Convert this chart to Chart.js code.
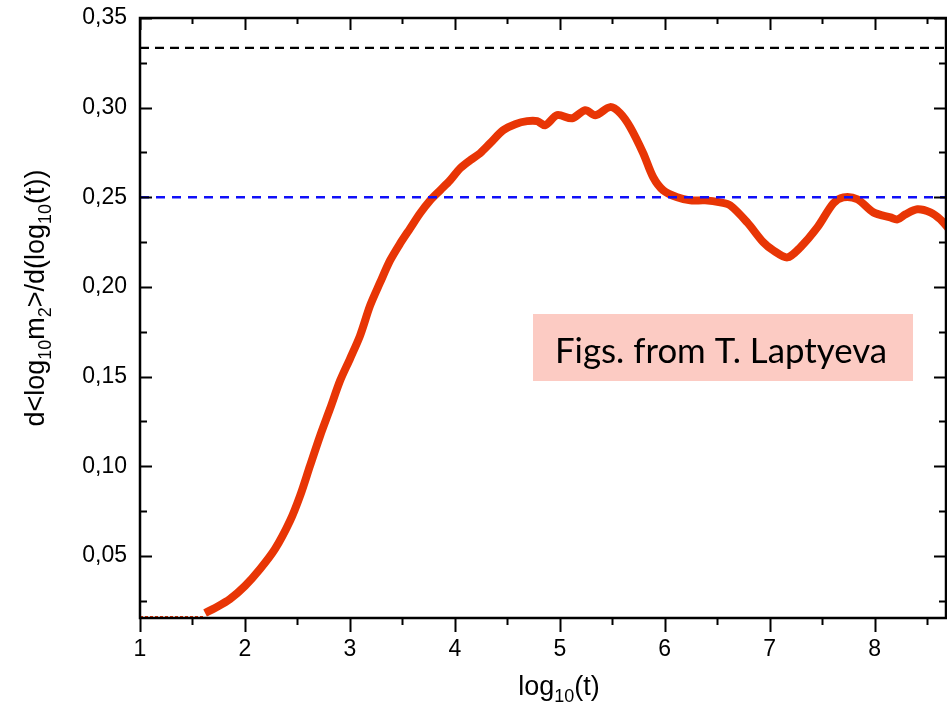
<!DOCTYPE html>
<html>
<head>
<meta charset="utf-8">
<script src="https://cdn.jsdelivr.net/npm/chart.js@4.4.1/dist/chart.umd.min.js"></script>
<style>
  html, body { margin: 0; padding: 0; background: #fff; }
  canvas { display: block; }
</style>
</head>
<body>
<canvas id="c" width="947" height="705"></canvas>
<script>
// axis ticks
const xTicks = [1, 2, 3, 4, 5, 6, 7, 8];
const xMinor = [1.5, 2.5, 3.5, 4.5, 5.5, 6.5, 7.5, 8.5];
const yTicks = [0.05, 0.10, 0.15, 0.20, 0.25, 0.30, 0.35];
const yMinor = [0.025, 0.075, 0.125, 0.175, 0.225, 0.275, 0.325];
const xMin = 1, xMax = 8.68;
const yMin = 0.0154, yMax = 0.35;

// d<log10 m2>/d(log10 t) against log10(t)
const logT = [1.620, 1.715, 1.858, 2.001, 2.144, 2.287, 2.430, 2.525, 2.620, 2.716,
  2.811, 2.907, 3.002, 3.097, 3.193, 3.288, 3.383, 3.479, 3.574, 3.669,
  3.765, 3.860, 3.955, 4.051, 4.146, 4.241, 4.337, 4.460, 4.575, 4.689,
  4.785, 4.861, 4.975, 5.118, 5.242, 5.338, 5.480, 5.576, 5.671, 5.795,
  5.890, 5.986, 6.119, 6.243, 6.386, 6.529, 6.624, 6.786, 6.939, 7.034,
  7.168, 7.292, 7.454, 7.606, 7.702, 7.835, 7.988, 8.150, 8.217, 8.293,
  8.407, 8.531, 8.626, 8.703];
const slope = [0.0182, 0.0210, 0.0260, 0.0333, 0.0427, 0.0539, 0.0696, 0.0835, 0.1003, 0.1170,
  0.1321, 0.1478, 0.1601, 0.1729, 0.1897, 0.2025, 0.2148, 0.2243, 0.2327, 0.2411,
  0.2483, 0.2539, 0.2595, 0.2662, 0.2707, 0.2746, 0.2802, 0.2874, 0.2908, 0.2925,
  0.2925, 0.2902, 0.2958, 0.2941, 0.2986, 0.2958, 0.3003, 0.2969, 0.2891, 0.2746,
  0.2612, 0.2539, 0.2500, 0.2483, 0.2483, 0.2472, 0.2455, 0.2360, 0.2249, 0.2204,
  0.2165, 0.2221, 0.2332, 0.2466, 0.2500, 0.2489, 0.2416, 0.2388, 0.2377, 0.2405,
  0.2433, 0.2416, 0.2377, 0.2327];

// early-time flat part, drawn thin
const flatT = [1.0, 1.62];
const flatY = [0.0160, 0.0160];

// reference levels
const levelThird = 1 / 3;
const levelQuarter = 0.25;

const pts = (xs, ys) => xs.map((x, i) => ({ x, y: ys[i] }));
const hline = v => [{ x: xMin, y: v }, { x: xMax, y: v }];

const FONT = '"Liberation Sans", Arial, sans-serif';

// draws text with subscripts, parts = [[text, isSub], ...], centred on x
function drawParts(ctx, parts, x, y) {
  const big = '27px ' + FONT, small = '18px ' + FONT;
  let w = 0;
  parts.forEach(([t, sub]) => { ctx.font = sub ? small : big; w += ctx.measureText(t).width; });
  let cx = x - w / 2;
  ctx.textAlign = 'left';
  ctx.textBaseline = 'alphabetic';
  parts.forEach(([t, sub]) => {
    ctx.font = sub ? small : big;
    ctx.fillText(t, cx, sub ? y + 7 : y);
    cx += ctx.measureText(t).width;
  });
}

const frame = {
  id: 'frame',
  afterDraw(chart) {
    const { ctx, chartArea: a, scales: { x, y } } = chart;
    ctx.save();
    ctx.strokeStyle = '#000';
    ctx.lineWidth = 2.5;
    ctx.strokeRect(a.left, a.top, a.right - a.left, a.bottom - a.top);

    ctx.lineWidth = 2;
    ctx.beginPath();
    const xt = (vals, len) => vals.forEach(v => {
      const px = Math.round(x.getPixelForValue(v)) + 0.5;
      if (px < a.left - 1 || px > a.right + 1) return;
      ctx.moveTo(px, a.bottom); ctx.lineTo(px, a.bottom + len);
      ctx.moveTo(px, a.top); ctx.lineTo(px, a.top + (len > 10 ? 12 : 6));
    });
    xt(xTicks, 14); xt(xMinor, 7);
    const yt = (vals, len) => vals.forEach(v => {
      const py = Math.round(y.getPixelForValue(v)) + 0.5;
      if (py < a.top - 1 || py > a.bottom + 1) return;
      ctx.moveTo(a.left, py); ctx.lineTo(a.left + len, py);
      ctx.moveTo(a.right, py); ctx.lineTo(a.right - len, py);
    });
    yt(yTicks, 12); yt(yMinor, 7);
    ctx.stroke();

    // axis titles
    ctx.fillStyle = '#000';
    drawParts(ctx, [['log', 0], ['10', 1], ['(t)', 0]], 559, 695);
    ctx.translate(44, 298);
    ctx.rotate(-Math.PI / 2);
    drawParts(ctx, [['d<log', 0], ['10', 1], ['m', 0], ['2', 1], ['>/d(log', 0], ['10', 1], ['(t))', 0]], 0, 0);
    ctx.restore();

    // credit box
    ctx.save();
    ctx.fillStyle = '#fccbc3';
    ctx.fillRect(533, 314, 380, 67);
    const label = 'Figs. from T. Laptyeva';
    ctx.font = '100px Lato, "Open Sans", sans-serif';
    const size = 100 * 332 / ctx.measureText(label).width;
    ctx.font = size.toFixed(1) + 'px Lato, "Open Sans", sans-serif';
    ctx.fillStyle = '#000';
    ctx.textAlign = 'left';
    ctx.textBaseline = 'alphabetic';
    ctx.fillText(label, 555, 363);
    ctx.restore();
  }
};

new Chart(document.getElementById('c'), {
  type: 'line',
  data: {
    datasets: [
      { data: hline(levelQuarter), borderColor: '#1010f8', borderWidth: 2.4, borderDash: [9, 7], pointRadius: 0 },
      { data: hline(levelThird), borderColor: '#000', borderWidth: 2.4, borderDash: [9, 6], pointRadius: 0 },
      { data: pts(logT, slope), borderColor: '#e83505', borderWidth: 8, pointRadius: 0,
        tension: 0.3, borderCapStyle: 'butt', borderJoinStyle: 'round', clip: 0 },
      { data: pts(flatT, flatY), borderColor: '#e83505', borderWidth: 2, borderDash: [3, 2], pointRadius: 0 }
    ]
  },
  options: {
    responsive: false,
    animation: false,
    devicePixelRatio: 1,
    layout: { padding: { top: 18, right: 1, left: 0, bottom: 0 } },
    plugins: { legend: { display: false }, tooltip: { enabled: false } },
    scales: {
      x: {
        type: 'linear', min: xMin, max: xMax,
        grid: { display: false, drawTicks: false },
        border: { display: false },
        afterBuildTicks: s => { s.ticks = xTicks.map(v => ({ value: v })); },
        afterFit: s => { s.height = 87; s.paddingLeft = 0; s.paddingRight = 0; },
        ticks: { padding: 18, color: '#000', font: { family: FONT, size: 23 }, maxRotation: 0,
          callback: v => String(v) }
      },
      y: {
        min: yMin, max: yMax,
        grid: { display: false, drawTicks: false },
        border: { display: false },
        afterBuildTicks: s => { s.ticks = yTicks.map(v => ({ value: v })); },
        afterFit: s => { s.width = 140; s.paddingTop = 0; s.paddingBottom = 0; },
        ticks: { padding: 13, color: '#000', font: { family: FONT, size: 23 },
          callback: v => v.toFixed(2).replace('.', ',') }
      }
    }
  },
  plugins: [frame]
});
</script>
</body>
</html>
